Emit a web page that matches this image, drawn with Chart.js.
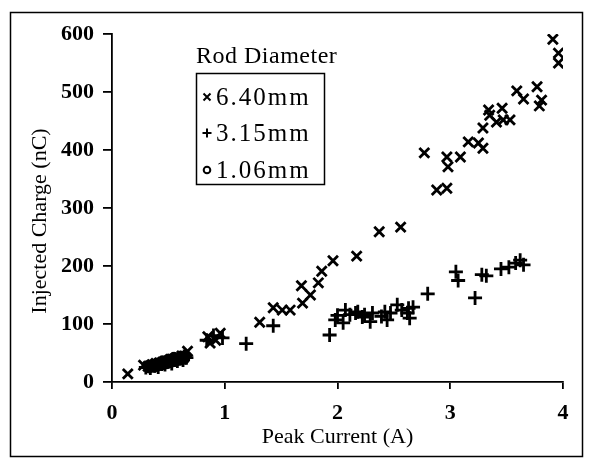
<!DOCTYPE html>
<html><head><meta charset="utf-8">
<script src="https://cdn.jsdelivr.net/npm/chart.js@4.4.0/dist/chart.umd.min.js"></script>
<style>html,body{margin:0;padding:0;background:#fff}#wrap{position:relative;width:591px;height:460px}</style>
</head><body><div id="wrap"><canvas id="c" width="591" height="460"></canvas></div>
<script>
const xTickValues = [0, 1, 2, 3, 4];
const yTickValues = [0, 100, 200, 300, 400, 500, 600];
const xTitle = 'Peak Current (A)';
const yTitle = 'Injected Charge (nC)';
const legendTitle = 'Rod Diameter';
const seriesNames = ['6.40mm', '3.15mm', '1.06mm'];

// 6.40 mm rod (x markers)
const x640 = [0.14,0.28,0.32,0.36,0.39,0.42,0.45,0.47,0.51,0.52,0.55,0.57,0.60,0.62,0.64,0.67,0.85,0.87,0.92,0.96,1.31,1.43,1.51,1.58,1.69,1.76,1.68,1.83,1.86,1.96,2.17,2.37,2.56,2.77,2.88,2.97,2.97,2.98,3.09,3.16,3.25,3.29,3.29,3.34,3.35,3.41,3.46,3.47,3.53,3.59,3.65,3.77,3.79,3.81,3.91,3.96,3.96];
const y640 = [14,29,27,30,32,33,34,36,36,39,38,42,41,45,44,53,78,67,72,84,103,128,124,124,136,150,166,171,191,209,217,259,267,395,331,334,388,371,388,414,412,403,438,469,460,448,472,452,452,502,488,509,476,486,591,567,550];
// 3.15 mm rod (+ markers)
const x315 = [0.30,0.34,0.38,0.41,0.44,0.47,0.50,0.53,0.55,0.58,0.60,0.63,0.64,0.66,0.84,0.90,0.98,1.19,1.43,1.93,1.98,2.00,2.05,2.07,2.11,2.16,2.18,2.22,2.24,2.29,2.31,2.39,2.42,2.44,2.47,2.53,2.57,2.62,2.63,2.64,2.67,2.80,3.05,3.07,3.22,3.28,3.32,3.45,3.52,3.58,3.62,3.65];
const y315 = [25,24,28,26,31,30,35,32,38,36,41,38,44,42,72,80,76,66,97,81,107,115,102,124,116,119,121,112,116,104,119,113,121,107,119,133,124,119,127,110,129,152,190,175,145,185,183,195,198,205,210,202];
// 1.06 mm rod (o markers)
const x106 = [0.33,0.35,0.37,0.38,0.40,0.42,0.44,0.46,0.48,0.50,0.52,0.54,0.56,0.58,0.60,0.62,0.64,0.36,0.40,0.44,0.48,0.52,0.56,0.60,0.41,0.43,0.45,0.47,0.49,0.51,0.53,0.55,0.57,0.59,0.34,0.39,0.45,0.50,0.55,0.61,0.65];
const y106 = [24,26,25,29,27,30,29,32,31,34,33,36,35,38,37,40,39,31,33,35,37,39,41,43,28,33,31,35,33,37,35,39,37,41,29,31,37,40,43,45,43];

const pts = (xs, ys) => xs.map((x, i) => ({x: x, y: ys[i]}));
const FONT = '"Liberation Serif", "Times New Roman", serif';

const framePlugin = {
  id: 'frameAndLegend',
  afterDraw(chart) {
    const ctx = chart.ctx;
    ctx.save();
    ctx.strokeStyle = '#000';
    ctx.lineWidth = 1.5;
    ctx.strokeRect(10.5, 12.5, 572, 444);
    ctx.fillStyle = '#000';
    // y axis title
    ctx.save();
    ctx.translate(40, 221);
    ctx.rotate(-Math.PI / 2);
    ctx.font = '22px ' + FONT;
    ctx.textAlign = 'center';
    ctx.textBaseline = 'middle';
    ctx.fillText(yTitle, 0, 0);
    ctx.restore();
    // legend
    ctx.font = '24px ' + FONT;
    ctx.textBaseline = 'middle';
    ctx.textAlign = 'left';
    try { ctx.letterSpacing = '0.5px'; } catch (e) {}
    ctx.fillText(legendTitle, 196, 57);
    ctx.lineWidth = 1.5;
    ctx.strokeRect(196.5, 73.5, 128, 111);
    const rows = [97, 133, 170];
    ctx.font = '25px ' + FONT;
    try { ctx.letterSpacing = '2px'; } catch (e) {}
    rows.forEach((ry, i) => {
      const mx = 207;
      ctx.lineWidth = 2;
      ctx.beginPath();
      if (i === 0) {
        ctx.moveTo(mx - 3.5, ry - 3.5); ctx.lineTo(mx + 3.5, ry + 3.5);
        ctx.moveTo(mx + 3.5, ry - 3.5); ctx.lineTo(mx - 3.5, ry + 3.5);
        ctx.stroke();
      } else if (i === 1) {
        ctx.moveTo(mx - 4.5, ry); ctx.lineTo(mx + 4.5, ry);
        ctx.moveTo(mx, ry - 4.5); ctx.lineTo(mx, ry + 4.5);
        ctx.stroke();
      } else {
        ctx.arc(mx, ry, 3.3, 0, Math.PI * 2);
        ctx.stroke();
      }
      ctx.fillText(seriesNames[i], 216, ry + 1);
    });
    try { ctx.letterSpacing = '0px'; } catch (e) {}
    ctx.restore();
  }
};

new Chart(document.getElementById('c'), {
  type: 'scatter',
  data: {
    datasets: [
      {label: seriesNames[0], data: pts(x640, y640), pointStyle: 'crossRot', pointRadius: 7, borderColor: '#000', backgroundColor: '#000', pointBorderWidth: 2.8},
      {label: seriesNames[1], data: pts(x315, y315), pointStyle: 'cross', pointRadius: 7, borderColor: '#000', backgroundColor: '#000', pointBorderWidth: 2.8},
      {label: seriesNames[2], data: pts(x106, y106), pointStyle: 'circle', pointRadius: 3.8, borderColor: '#000', backgroundColor: 'rgba(0,0,0,0)', pointBorderWidth: 3}
    ]
  },
  options: {
    responsive: false,
    animation: false,
    devicePixelRatio: 1,
    layout: {padding: {left: 10, top: 34, right: 28, bottom: 0}},
    plugins: {legend: {display: false}, tooltip: {enabled: false}},
    scales: {
      x: {
        type: 'linear', min: 0, max: 4,
        afterBuildTicks: s => { s.ticks = xTickValues.map(v => ({value: v})); },
        afterFit: s => { s.height = 78; },
        border: {display: true, color: '#000', width: 1.8},
        grid: {display: true, drawOnChartArea: false, drawTicks: true, tickLength: 7, color: '#000', lineWidth: 1.8},
        ticks: {color: '#000', font: {family: FONT, size: 22, weight: 'bold'}, padding: 11, maxRotation: 0},
        title: {display: true, text: xTitle, color: '#000', font: {family: FONT, size: 22}, padding: {top: 0, bottom: 10}}
      },
      y: {
        type: 'linear', min: 0, max: 600,
        afterBuildTicks: s => { s.ticks = yTickValues.map(v => ({value: v})); },
        afterFit: s => { s.width = 102; },
        border: {display: true, color: '#000', width: 1.8},
        grid: {display: true, drawOnChartArea: false, drawTicks: true, tickLength: 9, color: '#000', lineWidth: 1.8},
        ticks: {color: '#000', font: {family: FONT, size: 22, weight: 'bold'}, padding: 9},
        title: {display: false, text: yTitle}
      }
    }
  },
  plugins: [framePlugin]
});
</script>
</body></html>
